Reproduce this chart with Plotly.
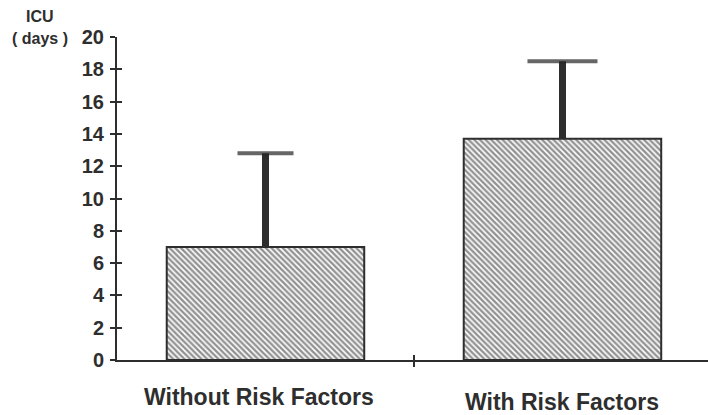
import plotly.graph_objects as go

# ICU length of stay (days), mean with upper standard deviation
categories = ["Without Risk Factors", "With Risk Factors"]
icu_days = [7.0, 13.7]
icu_sd = [5.8, 4.8]
y_ticks = [0, 2, 4, 6, 8, 10, 12, 14, 16, 18, 20]

ink = "#2e2e2e"
font_family = "Liberation Sans, Arial, Helvetica, sans-serif"

positions = list(range(len(categories)))
cap_sizes = [40, 50]
label_dy = [-37, -42]
label_dx = [-6, 0]

fig = go.Figure()

fig.add_trace(go.Bar(
    x=positions, y=icu_days, width=0.665,
    marker=dict(
        color="white",
        line=dict(color=ink, width=2),
        pattern=dict(shape="\\", fgcolor="#262626", bgcolor="white",
                     size=4, solidity=0.6),
    ),
    showlegend=False, hoverinfo="skip",
))

# upper standard deviation whiskers: thick stem with a T cap
for pos, val, sd, cap in zip(positions, icu_days, icu_sd, cap_sizes):
    fig.add_trace(go.Scatter(
        x=[pos, pos], y=[val, val + sd], mode="lines+markers",
        line=dict(color=ink, width=7),
        marker=dict(symbol="line-ew", size=[0, cap],
                    line=dict(color="#262626", width=4), color=ink),
        showlegend=False, hoverinfo="skip", cliponaxis=False,
    ))

# invisible helper trace so the overlay axes (crossing tick marks) render
fig.add_trace(go.Scatter(x=[positions[0]], y=[0], xaxis="x2", yaxis="y2",
                         mode="markers", marker=dict(opacity=0),
                         showlegend=False, hoverinfo="skip"))

fig.update_layout(
    width=708, height=415,
    margin=dict(l=117, r=0, t=37, b=55),
    paper_bgcolor="white", plot_bgcolor="white",
    font=dict(family=font_family, color=ink, weight="bold"),
    xaxis=dict(range=[-0.5, 1.49], tickvals=[0.5], ticks="outside", ticklen=5,
               tickwidth=2, tickcolor=ink, showticklabels=False,
               showline=True, linecolor=ink, linewidth=2,
               showgrid=False, zeroline=False, fixedrange=True),
    xaxis2=dict(range=[-0.5, 1.49], overlaying="x", tickvals=[0.5],
                ticks="inside", ticklen=5, tickwidth=2, tickcolor=ink,
                showticklabels=False, showline=False, showgrid=False,
                zeroline=False, anchor="y2", side="bottom"),
    yaxis=dict(range=[0, 20], tickvals=y_ticks, ticks="outside", ticklen=5,
               tickwidth=2, tickcolor=ink, showline=True, linecolor=ink,
               linewidth=2, showgrid=False, zeroline=False,
               tickfont=dict(size=20, family=font_family, color=ink, weight="bold"),
               ticklabelstandoff=2),
    yaxis2=dict(range=[0, 20], overlaying="y", tickvals=y_ticks, ticks="inside",
                ticklen=5, tickwidth=2, tickcolor=ink, showticklabels=False,
                showline=False, showgrid=False, zeroline=False, anchor="x2"),
)

# category labels under the bars
for i, (pos, name) in enumerate(zip(positions, categories)):
    fig.add_annotation(x=pos, y=0, xref="x", yref="y", text=name,
                       showarrow=False, yanchor="middle", xanchor="center",
                       yshift=label_dy[i], xshift=label_dx[i],
                       font=dict(size=23, family=font_family, color=ink, weight="bold"))

# y-axis title
fig.add_annotation(x=-0.131, y=1.062, xref="paper", yref="paper", text="ICU",
                   showarrow=False, xanchor="center", yanchor="middle",
                   font=dict(size=16, family=font_family, color=ink, weight="bold"))
fig.add_annotation(x=-0.131, y=0.994, xref="paper", yref="paper", text="( days )",
                   showarrow=False, xanchor="center", yanchor="middle",
                   font=dict(size=16, family=font_family, color=ink, weight="bold"))

fig.write_html("out.html")
